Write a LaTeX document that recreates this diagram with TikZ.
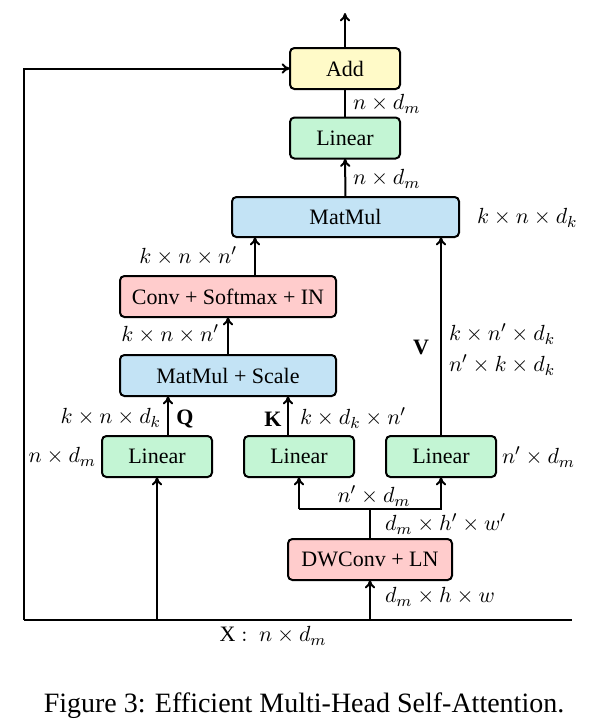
\documentclass[tikz,border=0pt]{standalone}
\usepackage{fontspec}
\setmainfont{Liberation Serif}
\usetikzlibrary{arrows.meta,calc}
\definecolor{addfill}{RGB}{255,250,200}
\definecolor{linfill}{RGB}{195,245,212}
\definecolor{mmfill}{RGB}{195,227,245}
\definecolor{cvfill}{RGB}{255,204,204}
\begin{document}
\begin{tikzpicture}[x=0.5pt,y=-0.5pt,
  font=\fontsize{11}{13}\selectfont,
  every path/.style={line width=1pt},
  box/.style={draw, rounded corners=2.2pt, inner sep=0pt, outer sep=0pt, minimum height=20.5pt, line width=1pt},
  arr/.style={-{To[length=4.2pt,width=5.2pt]}, line width=1pt},
  lab/.style={inner sep=0pt, outer sep=0pt}]
\useasboundingbox (0,0) rectangle (609,728);
% boxes
\node[box, fill=addfill, minimum width=55pt] (add) at (345,68.5) {Add};
\node[box, fill=linfill, minimum width=55pt] (lin0) at (345,138) {Linear};
\node[box, fill=mmfill, minimum width=113.5pt, minimum height=20pt] (mm) at (345.5,217) {MatMul};
\node[box, fill=cvfill, minimum width=108pt] (conv) at (228,296.5) {Conv + Softmax + IN};
\node[box, fill=mmfill, minimum width=108pt] (mms) at (228,375.5) {MatMul + Scale};
\node[box, fill=linfill, minimum width=55pt] (linq) at (157,456.5) {Linear};
\node[box, fill=linfill, minimum width=55pt] (link) at (299,456.5) {Linear};
\node[box, fill=linfill, minimum width=55pt] (linv) at (441,456.5) {Linear};
\node[box, fill=cvfill, minimum width=82pt] (dw) at (370,559.5) {DWConv + LN};
% coordinates
\coordinate (out) at (345,13);
\coordinate (bl) at (24,620);
\coordinate (br) at (572,620);
\coordinate (tl) at (24,68.5);
\coordinate (split) at (370,509);
% connectors
\draw[arr] (add) -- (out);
\draw (lin0) -- (add);
\draw[arr] (mm) -- (lin0);
\draw[arr] (conv.north -| 255,0) -- (mm.south -| 255,0);
\draw[arr] (linv.north) -- (mm.south -| linv.north);
\draw[arr] (mms) -- (conv);
\draw[arr] (linq.north -| 168,0) -- (mms.south -| 168,0);
\draw[arr] (link.north -| 288,0) -- (mms.south -| 288,0);
\draw (bl) -- (br);
\draw[arr] (bl) -- (tl) -- (add.west);
\draw[arr] (bl -| linq.south) -- (linq.south);
\draw[arr] (bl -| dw.south) -- (dw.south);
\draw (dw.north) -- (split);
\draw[arr] (split -| link.south) -- (link.south);
\draw[arr] (split) -| (linv.south);
\draw (split -| link.south) -- (split);
% labels
\node[lab, anchor=west] (l1) at (353,104) {$n\times d_m$};
\node[lab, anchor=west] (l2) at (353,179) {$n\times d_m$};
\node[lab, anchor=west] (l3) at (477,218) {$k\times n\times d_k$};
\node[lab, anchor=east] (l4) at (237,256) {$k\times n\times n'$};
\node[lab, anchor=east] (l5) at (219,334) {$k\times n\times n'$};
\node[lab, anchor=west] (l6) at (449,334) {$k\times n'\times d_k$};
\node[lab, anchor=west] (l7) at (449,365) {$n'\times k\times d_k$};
\node[lab] (lv) at (421,347) {\textbf{V}};
\node[lab, anchor=east] (l8) at (161,418) {$k\times n\times d_k$};
\node[lab] (lq) at (185,419) {\textbf{Q}};
\node[lab] (lk) at (273,419) {\textbf{K}};
\node[lab, anchor=west] (l9) at (300,418) {$k\times d_k\times n'$};
\node[lab, anchor=east] (l10) at (96,457) {$n\times d_m$};
\node[lab, anchor=west] (l11) at (502,457) {$n'\times d_m$};
\node[lab] (l12) at (374,496) {$n'\times d_m$};
\node[lab, anchor=west] (l13) at (385,524) {$d_m\times h'\times w'$};
\node[lab, anchor=west] (l14) at (385,597) {$d_m\times h\times w$};
\node[lab] (lx) at (273,636) {$\mathrm{X}:\ n\times d_m$};
\node[lab] (cap) at (304,706) {\fontsize{14}{16}\selectfont Figure 3: Efficient Multi-Head Self-Attention.};
\end{tikzpicture}
\end{document}
